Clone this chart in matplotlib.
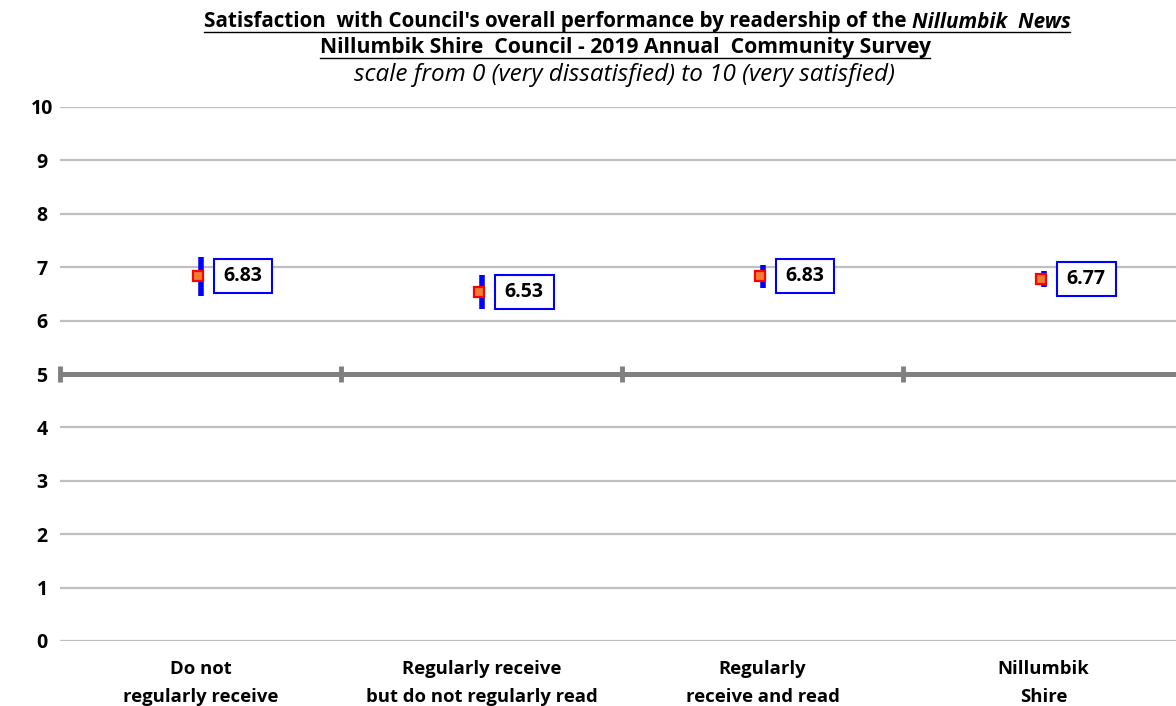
import numpy as np
import matplotlib
matplotlib.use('Agg')
import matplotlib.pyplot as plt
from matplotlib.lines import Line2D
from matplotlib.patches import Rectangle

# Data
categories = ['Do not\nregularly receive',
              'Regularly receive\nbut do not regularly read',
              'Regularly\nreceive and read',
              'Nillumbik\nShire']
means = [6.83, 6.53, 6.83, 6.77]
ci_half = [0.36, 0.32, 0.22, 0.15]  # 95% confidence interval half-widths
label_text = ['6.83', '6.53', '6.83', '6.77']
yticks = list(range(0, 11))

title_main = "Satisfaction  with Council's overall performance by readership of the "
title_italic = "Nillumbik  News"
title_sub = "Nillumbik Shire  Council - 2019 Annual  Community Survey"
title_scale = "scale from 0 (very dissatisfied) to 10 (very satisfied)"

plt.rcParams['font.family'] = ['Open Sans', 'DejaVu Sans']
plt.rcParams['font.weight'] = 'bold'

W, H = 1176, 706
fig = plt.figure(figsize=(W / 100, H / 100), dpi=100)
ax = fig.add_axes([60 / W, 1 - 641 / H, 1124 / W, (641 - 107) / H])

x = np.arange(len(categories))
ax.set_xlim(-0.5, len(categories) - 0.5)
ax.set_ylim(0, 10)

# Gridlines
ax.set_yticks(yticks)
ax.yaxis.grid(True, color='#bfbfbf', linewidth=1.6)
ax.set_axisbelow(True)
for s in ax.spines.values():
    s.set_visible(False)
ax.tick_params(axis='y', length=0, pad=13, labelsize=14)
for t in ax.get_yticklabels():
    t.set_fontweight('bold')
    t.set_horizontalalignment('center')

ax.set_xticks(x)
ax.set_xticklabels(categories, fontsize=13.3, fontweight='bold', linespacing=1.7)
ax.tick_params(axis='x', length=0, pad=14)

# Category axis crossing at 5
bounds = np.arange(len(categories) + 1) - 0.5
ax.axhline(5, color='#808080', linewidth=3.6, zorder=2)
ax.plot(bounds, [5] * len(bounds), ls='none', marker='|', ms=12, mew=3.5,
        color='#808080', clip_on=False, zorder=2)

# Error bars and means
ax.errorbar(x, means, yerr=ci_half, fmt='none', ecolor='#0000ff',
            elinewidth=4, capsize=0, zorder=3)
ax.plot(x - 0.009, means, ls='none', marker='s', ms=7, mfc='#ed7d31',
        mec='#ff0000', mew=1.6, zorder=4)

labels = []
for xi, yi, lab in zip(x, means, label_text):
    labels.append(ax.annotate(lab, (xi, yi), xytext=(23, 0), textcoords='offset pixels',
                              ha='left', va='center', fontsize=14, fontweight='bold',
                              zorder=6))

# Titles (underlined)
t1 = fig.text(0.5, 1 - 22 / H, title_main, ha='left', va='center',
              fontsize=14.9, fontweight='bold')
t1i = fig.text(0.5, 1 - 22 / H, title_italic, ha='left', va='center',
               fontsize=14.9, fontweight='bold', fontstyle='italic')
t2 = fig.text(625 / W, 1 - 48 / H, title_sub, ha='center', va='center',
              fontsize=15.2, fontweight='bold')
fig.text(624 / W, 1 - 75 / H, title_scale, ha='center', va='center',
         fontsize=17.5, fontweight='normal', fontstyle='italic')

fig.canvas.draw()
r = fig.canvas.get_renderer()
w1 = t1.get_window_extent(r).width
w2 = t1i.get_window_extent(r).width
start = 637 - (w1 + w2) / 2
t1.set_x(start / W)
t1i.set_x((start + w1) / W)
fig.canvas.draw()


def underline(txts, y_off=1):
    bbs = [t.get_window_extent(r) for t in txts]
    x0 = min(b.x0 for b in bbs)
    x1 = max(b.x1 for b in bbs)
    y0 = min(b.y0 for b in bbs) + y_off
    fig.add_artist(Line2D([x0 / W, x1 / W], [y0 / H, y0 / H], color='black',
                          lw=1.0, transform=fig.transFigure))


underline([t1, t1i])
underline([t2])

# Data label boxes: white fill, blue border
for lab in labels:
    bb = lab.get_window_extent(r)
    padx, pady = 10, 7
    fig.add_artist(Rectangle(((bb.x0 - padx) / W, (bb.y0 - pady) / H),
                             (bb.width + 2 * padx) / W, (bb.height + 2 * pady) / H,
                             transform=fig.transFigure, fc='white', ec='#0000ff',
                             lw=1.5, zorder=5))
    lab.remove()
    fig.text(bb.x0 / W, (bb.y0 + bb.height / 2) / H, lab.get_text(), ha='left',
             va='center', fontsize=14, fontweight='bold', zorder=6)

fig.savefig('out.png', dpi=100)
